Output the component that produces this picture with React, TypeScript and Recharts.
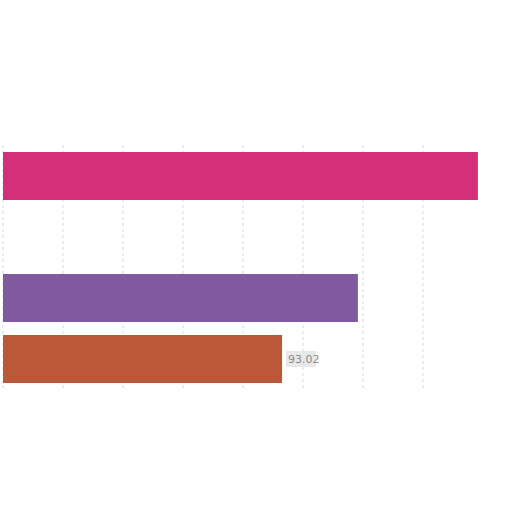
import React from 'react';
import { BarChart, Bar, XAxis, YAxis, CartesianGrid, Cell, LabelList } from 'recharts';

// categories (names are not shown in the picture), one row is empty
const categories = ['A', 'B', 'C', 'D'];
const values: (number | null)[] = [158.3, null, 118.3, 93.02];
const colors = ['#d4307a', '#d4307a', '#7f5a9f', '#bb5837'];
const xTicks = [0, 20, 40, 60, 80, 100, 120, 140];
const labelled = ['', '', '', '93.02'];

const data = categories.map((name, i) => ({ name, value: values[i], label: labelled[i] }));

const ValueTag = (props: any) => {
  const { x, y, width, height, value } = props;
  if (!value) return null;
  const tx = x + width + 4;
  const ty = y + height / 2;
  return (
    <g>
      <rect x={tx} y={ty - 8} width={30} height={16} fill="#e8e8e8" />
      <text x={tx + 2} y={ty + 4} fontSize={11} fill="#8a8a8a" fontFamily="DejaVu Sans">
        {value}
      </text>
    </g>
  );
};

// grid lines at the tick values, through the axis scale
const gridX = (p: any) => {
  const s = p?.xAxis?.scale;
  if (typeof s === 'function') return xTicks.map((t) => s(t));
  if (s && typeof s.map === 'function') return xTicks.map((t) => s.map(t));
  return [];
};

export default function App() {
  return (
    <div style={{ position: 'absolute', left: 0, top: 0, width: 512, height: 512, background: '#fff' }}>
      <BarChart
        width={512}
        height={512}
        data={data}
        layout="vertical"
        margin={{ top: 145, right: 29, bottom: 123, left: 3 }}
        barCategoryGap={6}
      >
        <CartesianGrid
          horizontal={false}
          strokeDasharray="3 3"
          stroke="#d8d8d8"
          verticalCoordinatesGenerator={gridX}
        />
        <XAxis
          type="number"
          domain={[0, 160]}
          ticks={xTicks}
          height={0}
          tick={{ fontSize: 0 }}
          tickLine={false}
          axisLine={false}
        />
        <YAxis
          type="category"
          dataKey="name"
          width={0}
          tick={false}
          tickLine={false}
          axisLine={{ stroke: '#b8b8b8', strokeWidth: 1.5 }}
        />
        <Bar dataKey="value" barSize={48} isAnimationActive={false}>
          {data.map((d, i) => (
            <Cell key={d.name} fill={colors[i]} />
          ))}
          <LabelList dataKey="label" content={<ValueTag />} />
        </Bar>
      </BarChart>
    </div>
  );
}
